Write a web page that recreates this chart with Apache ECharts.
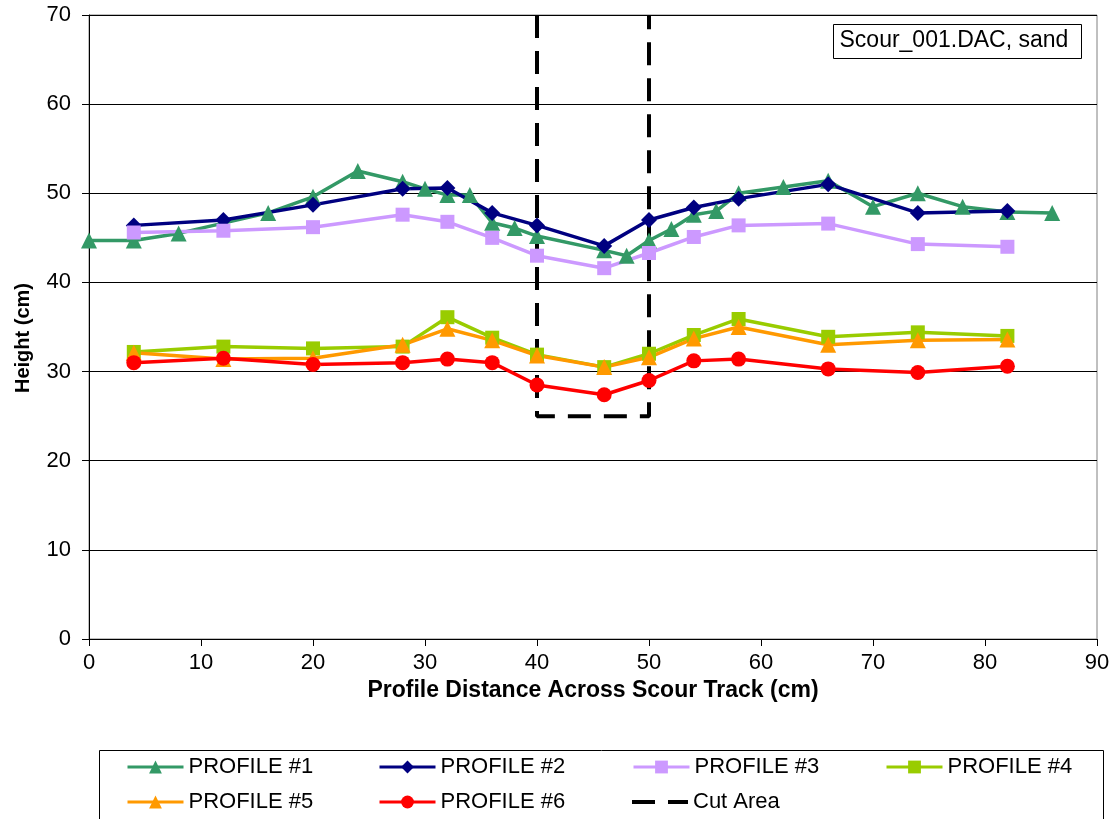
<!DOCTYPE html>
<html>
<head>
<meta charset="utf-8">
<script src="https://cdn.jsdelivr.net/npm/echarts@6/dist/echarts.min.js"></script>
<style>
html,body{margin:0;padding:0;background:#fff;}
#chart{width:1114px;height:819px;}
</style>
</head>
<body>
<div id="chart"></div>
<script>
// Data
const xTicks = [0, 10, 20, 30, 40, 50, 60, 70, 80, 90];
const yTicks = [0, 10, 20, 30, 40, 50, 60, 70];

const p1x = [0, 4, 8, 16, 20, 24, 28, 30, 32, 34, 36, 38, 40, 46, 48, 50, 52, 54, 56, 58, 62, 66, 70, 74, 78, 82, 86];
const p1y = [44.7, 44.7, 45.5, 47.8, 49.6, 52.5, 51.3, 50.5, 49.8, 49.8, 46.7, 46.1, 45.2, 43.6, 43.0, 44.7, 46.0, 47.6, 48.0, 50.0, 50.7, 51.4, 48.5, 50.0, 48.5, 47.9, 47.8];

const stdX = [4, 12, 20, 28, 32, 36, 40, 46, 50, 54, 58, 66, 74, 82];
const p2y = [46.4, 47.0, 48.7, 50.5, 50.6, 47.8, 46.4, 44.1, 47.0, 48.4, 49.4, 51.0, 47.8, 48.0];
const p3y = [45.6, 45.8, 46.2, 47.6, 46.8, 45.0, 43.0, 41.6, 43.3, 45.1, 46.4, 46.6, 44.3, 44.0];
const p4y = [32.2, 32.8, 32.6, 32.8, 36.1, 33.8, 31.9, 30.5, 32.0, 34.1, 35.9, 33.9, 34.4, 34.0];
const p5y = [32.1, 31.4, 31.5, 33.0, 34.8, 33.5, 31.8, 30.5, 31.6, 33.7, 35.0, 33.0, 33.5, 33.6];
const p6y = [31.0, 31.5, 30.8, 31.0, 31.4, 31.0, 28.5, 27.4, 29.0, 31.2, 31.4, 30.3, 29.9, 30.6];

const cutX = [40, 40, 50, 50];
const cutY = [70, 25, 25, 70];

const names = ['PROFILE #1', 'PROFILE #2', 'PROFILE #3', 'PROFILE #4', 'PROFILE #5', 'PROFILE #6', 'Cut Area'];
const annotation = 'Scour_001.DAC, sand';

function pairs(xs, ys) { return xs.map((x, i) => [x, ys[i]]); }

const FONT = 'Liberation Sans, Arial, sans-serif';

function lineSeries(name, xs, ys, color, symbol, size) {
  return {
    name: name, type: 'line', data: pairs(xs, ys),
    symbol: symbol, symbolSize: size, showSymbol: true,
    lineStyle: { color: color, width: 3.5 },
    itemStyle: { color: color },
    z: 3, animation: false
  };
}

const series = [
  {
    name: 'Cut Area', type: 'line', data: pairs(cutX, cutY),
    symbol: 'none', showSymbol: false,
    lineStyle: { color: '#000', width: 4, type: [23, 13] },
    itemStyle: { color: '#000' }, z: 2, animation: false
  },
  lineSeries('PROFILE #1', p1x, p1y, '#339966', 'triangle', 16),
  lineSeries('PROFILE #2', stdX, p2y, '#000080', 'diamond', 16),
  lineSeries('PROFILE #3', stdX, p3y, '#CC99FF', 'rect', 14),
  lineSeries('PROFILE #4', stdX, p4y, '#99CC00', 'rect', 14),
  lineSeries('PROFILE #5', stdX, p5y, '#FF9900', 'triangle', 16),
  lineSeries('PROFILE #6', stdX, p6y, '#FF0000', 'circle', 15)
];

const colLeft = [126, 378, 632, 885];
const rowTop = [756, 791];
const legends = names.map((n, i) => {
  const isCut = n === 'Cut Area';
  return {
    data: isCut ? [{ name: n, icon: 'path://M0,0L23,0L23,4L0,4Z M36,0L56,0L56,4L36,4Z' }] : [n],
    left: colLeft[i % 4],
    top: rowTop[Math.floor(i / 4)],
    padding: 0,
    itemWidth: 56,
    itemHeight: isCut ? 4 : 16,
    itemGap: 0,
    selectedMode: false,
    lineStyle: { width: 3 },
    itemStyle: isCut ? { color: '#000' } : {},
    textStyle: { fontFamily: FONT, fontSize: 22, color: '#000', padding: [0, 0, 0, 0] }
  };
});

const chart = echarts.init(document.getElementById('chart'), null, { renderer: 'canvas' });
chart.setOption({
  backgroundColor: '#fff',
  animation: false,
  grid: { left: 89, right: 17, top: 15, bottom: 180, show: true, borderColor: '#808080', borderWidth: 1 },
  xAxis: {
    type: 'value', min: xTicks[0], max: xTicks[xTicks.length - 1], interval: 10,
    name: 'Profile Distance Across Scour Track (cm)', nameLocation: 'middle', nameGap: 38,
    nameTextStyle: { fontFamily: FONT, fontSize: 23, fontWeight: 'bold', color: '#000' },
    axisLine: { show: true, lineStyle: { color: '#000', width: 1 } },
    axisTick: { show: true, length: 7, lineStyle: { color: '#000' } },
    axisLabel: { fontFamily: FONT, fontSize: 22, color: '#000', margin: 13 },
    splitLine: { show: false }
  },
  yAxis: {
    type: 'value', min: yTicks[0], max: yTicks[yTicks.length - 1], interval: 10,
    name: 'Height (cm)', nameLocation: 'middle', nameGap: 56,
    nameTextStyle: { fontFamily: FONT, fontSize: 20, fontWeight: 'bold', color: '#000', padding: [0, 22, 0, 0] },
    axisLine: { show: true, lineStyle: { color: '#000', width: 1 } },
    axisTick: { show: true, length: 7, lineStyle: { color: '#000' } },
    axisLabel: { fontFamily: FONT, fontSize: 22, color: '#000', margin: 18 },
    splitLine: { show: true, lineStyle: { color: '#000', width: 1 } }
  },
  legend: legends,
  graphic: [
    { type: 'rect', left: 97, top: 748, shape: { width: 1004, height: 70 },
      style: { fill: 'none', stroke: '#000', lineWidth: 1 }, z: -1 },
    { type: 'group', left: 833, top: 24, children: [
      { type: 'rect', shape: { width: 248, height: 34 }, style: { fill: '#fff', stroke: '#000', lineWidth: 1 } },
      { type: 'text', left: 6, top: 5, style: { text: annotation, font: '23px ' + FONT, fill: '#000' } }
    ], z: 10 }
  ],
  series: series
});
</script>
</body>
</html>
